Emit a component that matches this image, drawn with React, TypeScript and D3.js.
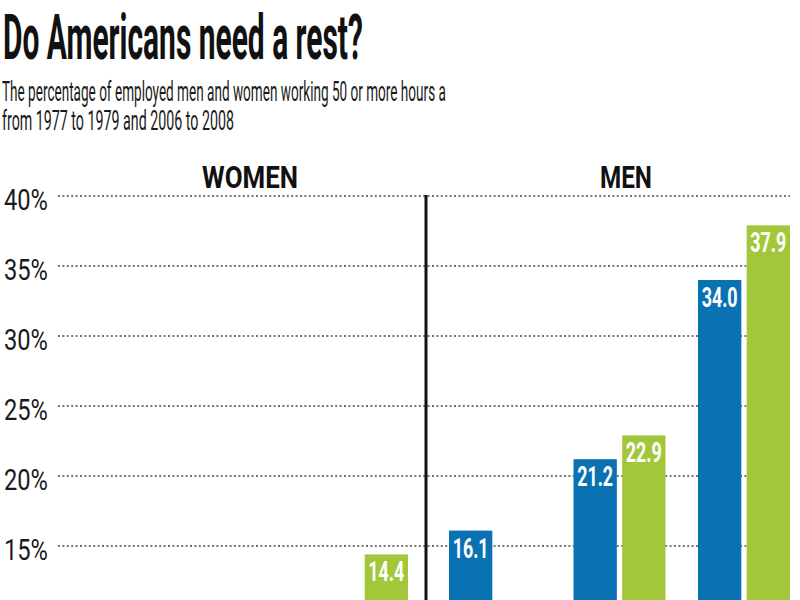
import { useEffect, useRef } from "react";
import * as d3 from "d3";

// Share of employed people working 50+ hours a week, by income group.
const INCOME = ["Low-income", "Middle-income", "Professional"];
const PERIODS = ["1977-1979", "2006-2008"];
const WOMEN_1977 = [4.1, 7.2, 9.7];
const WOMEN_2006 = [3.4, 6.6, 14.4];
const MEN_1977 = [16.1, 21.2, 34.0];
const MEN_2006 = [9.8, 22.9, 37.9];
const Y_TICKS = [0, 5, 10, 15, 20, 25, 30, 35, 40];

const COLORS = ["#0a72b3", "#a3c73a"];
const FONT = "Roboto, 'Liberation Sans', Arial, sans-serif";

type Sel = d3.Selection<any, unknown, null, undefined>;

// Draw text squeezed horizontally to a given width (fakes a condensed face).
function condensed(
  parent: Sel,
  str: string,
  x: number,
  y: number,
  width: number,
  size: number,
  weight: number,
  fill: string,
) {
  const g = parent.append("g");
  const t = g
    .append("text")
    .attr("font-size", size)
    .attr("font-weight", weight)
    .attr("fill", fill)
    .text(str);
  const len = (t.node() as SVGTextElement).getComputedTextLength() || width;
  g.attr("transform", `translate(${x},${y}) scale(${width / len},1)`);
  return g;
}

export default function App() {
  const svgRef = useRef<SVGSVGElement | null>(null);

  useEffect(() => {
    const svg = d3.select(svgRef.current);
    svg.selectAll("*").remove();
    if (!svgRef.current) return;

    const W = 800;
    const H = 600;
    svg.attr("width", W).attr("height", H).attr("viewBox", `0 0 ${W} ${H}`).attr("font-family", FONT);
    svg.append("rect").attr("width", W).attr("height", H).attr("fill", "#fff");

    // title + subtitle
    condensed(svg, "Do Americans need a rest?", 3, 59, 360, 63, 700, "#111");
    condensed(svg, "The percentage of employed men and women working 50 or more hours a", 2, 101, 444, 27, 400, "#1a1a1a");
    condensed(svg, "from 1977 to 1979 and 2006 to 2008", 2, 130, 232, 27, 400, "#1a1a1a");

    const y = d3.scaleLinear().domain([0, 40]).range([756, 196]);
    const gridX0 = 58;
    const gridX1 = 790;
    const dividerX = 426;

    // dotted gridlines
    svg
      .append("g")
      .selectAll("line")
      .data(Y_TICKS)
      .join("line")
      .attr("x1", gridX0)
      .attr("x2", gridX1)
      .attr("y1", (d) => y(d))
      .attr("y2", (d) => y(d))
      .attr("stroke", "#777")
      .attr("stroke-width", 2)
      .attr("stroke-dasharray", "2 2.4");

    // y tick labels
    const tickG = svg.append("g");
    Y_TICKS.forEach((d) => {
      const w = d >= 10 ? 44 : 29;
      condensed(tickG, `${d}%`, 48 - w, y(d) + 14, w, 29, 400, "#1a1a1a");
    });

    const panels = [
      { label: "WOMEN", series: [WOMEN_1977, WOMEN_2006], range: [67, 408], cx: 250, lw: 96 },
      { label: "MEN", series: [MEN_1977, MEN_2006], range: [449, 790], cx: 626, lw: 52 },
    ];

    panels.forEach((p) => {
      condensed(svg, p.label, p.cx - p.lw / 2, 188, p.lw, 32, 700, "#111");

      const x0 = d3
        .scaleBand<string>()
        .domain(INCOME)
        .range(p.range as [number, number])
        .paddingInner(0.261);
      const x1 = d3
        .scaleBand<string>()
        .domain(PERIODS)
        .range([0, x0.bandwidth()])
        .paddingInner(0.11);

      const rows = INCOME.flatMap((inc, i) =>
        PERIODS.map((per, j) => ({ inc, per, j, v: p.series[j][i] })),
      );

      const g = svg.append("g");
      g.selectAll("rect")
        .data(rows)
        .join("rect")
        .attr("x", (d) => x0(d.inc)! + x1(d.per)!)
        .attr("y", (d) => y(d.v))
        .attr("width", x1.bandwidth())
        .attr("height", (d) => y(0) - y(d.v))
        .attr("fill", (d) => COLORS[d.j]);

      rows.forEach((d) => {
        const cx = x0(d.inc)! + x1(d.per)! + x1.bandwidth() / 2;
        condensed(g, d3.format(".1f")(d.v), cx - 18, y(d.v) + 27, 36, 28, 700, "#fff");
      });
    });

    // divider between panels
    svg
      .append("line")
      .attr("x1", dividerX)
      .attr("x2", dividerX)
      .attr("y1", y(40) - 1)
      .attr("y2", y(0))
      .attr("stroke", "#111")
      .attr("stroke-width", 3);
  }, []);

  return <svg ref={svgRef} style={{ position: "absolute", left: 0, top: 0, display: "block" }} />;
}
